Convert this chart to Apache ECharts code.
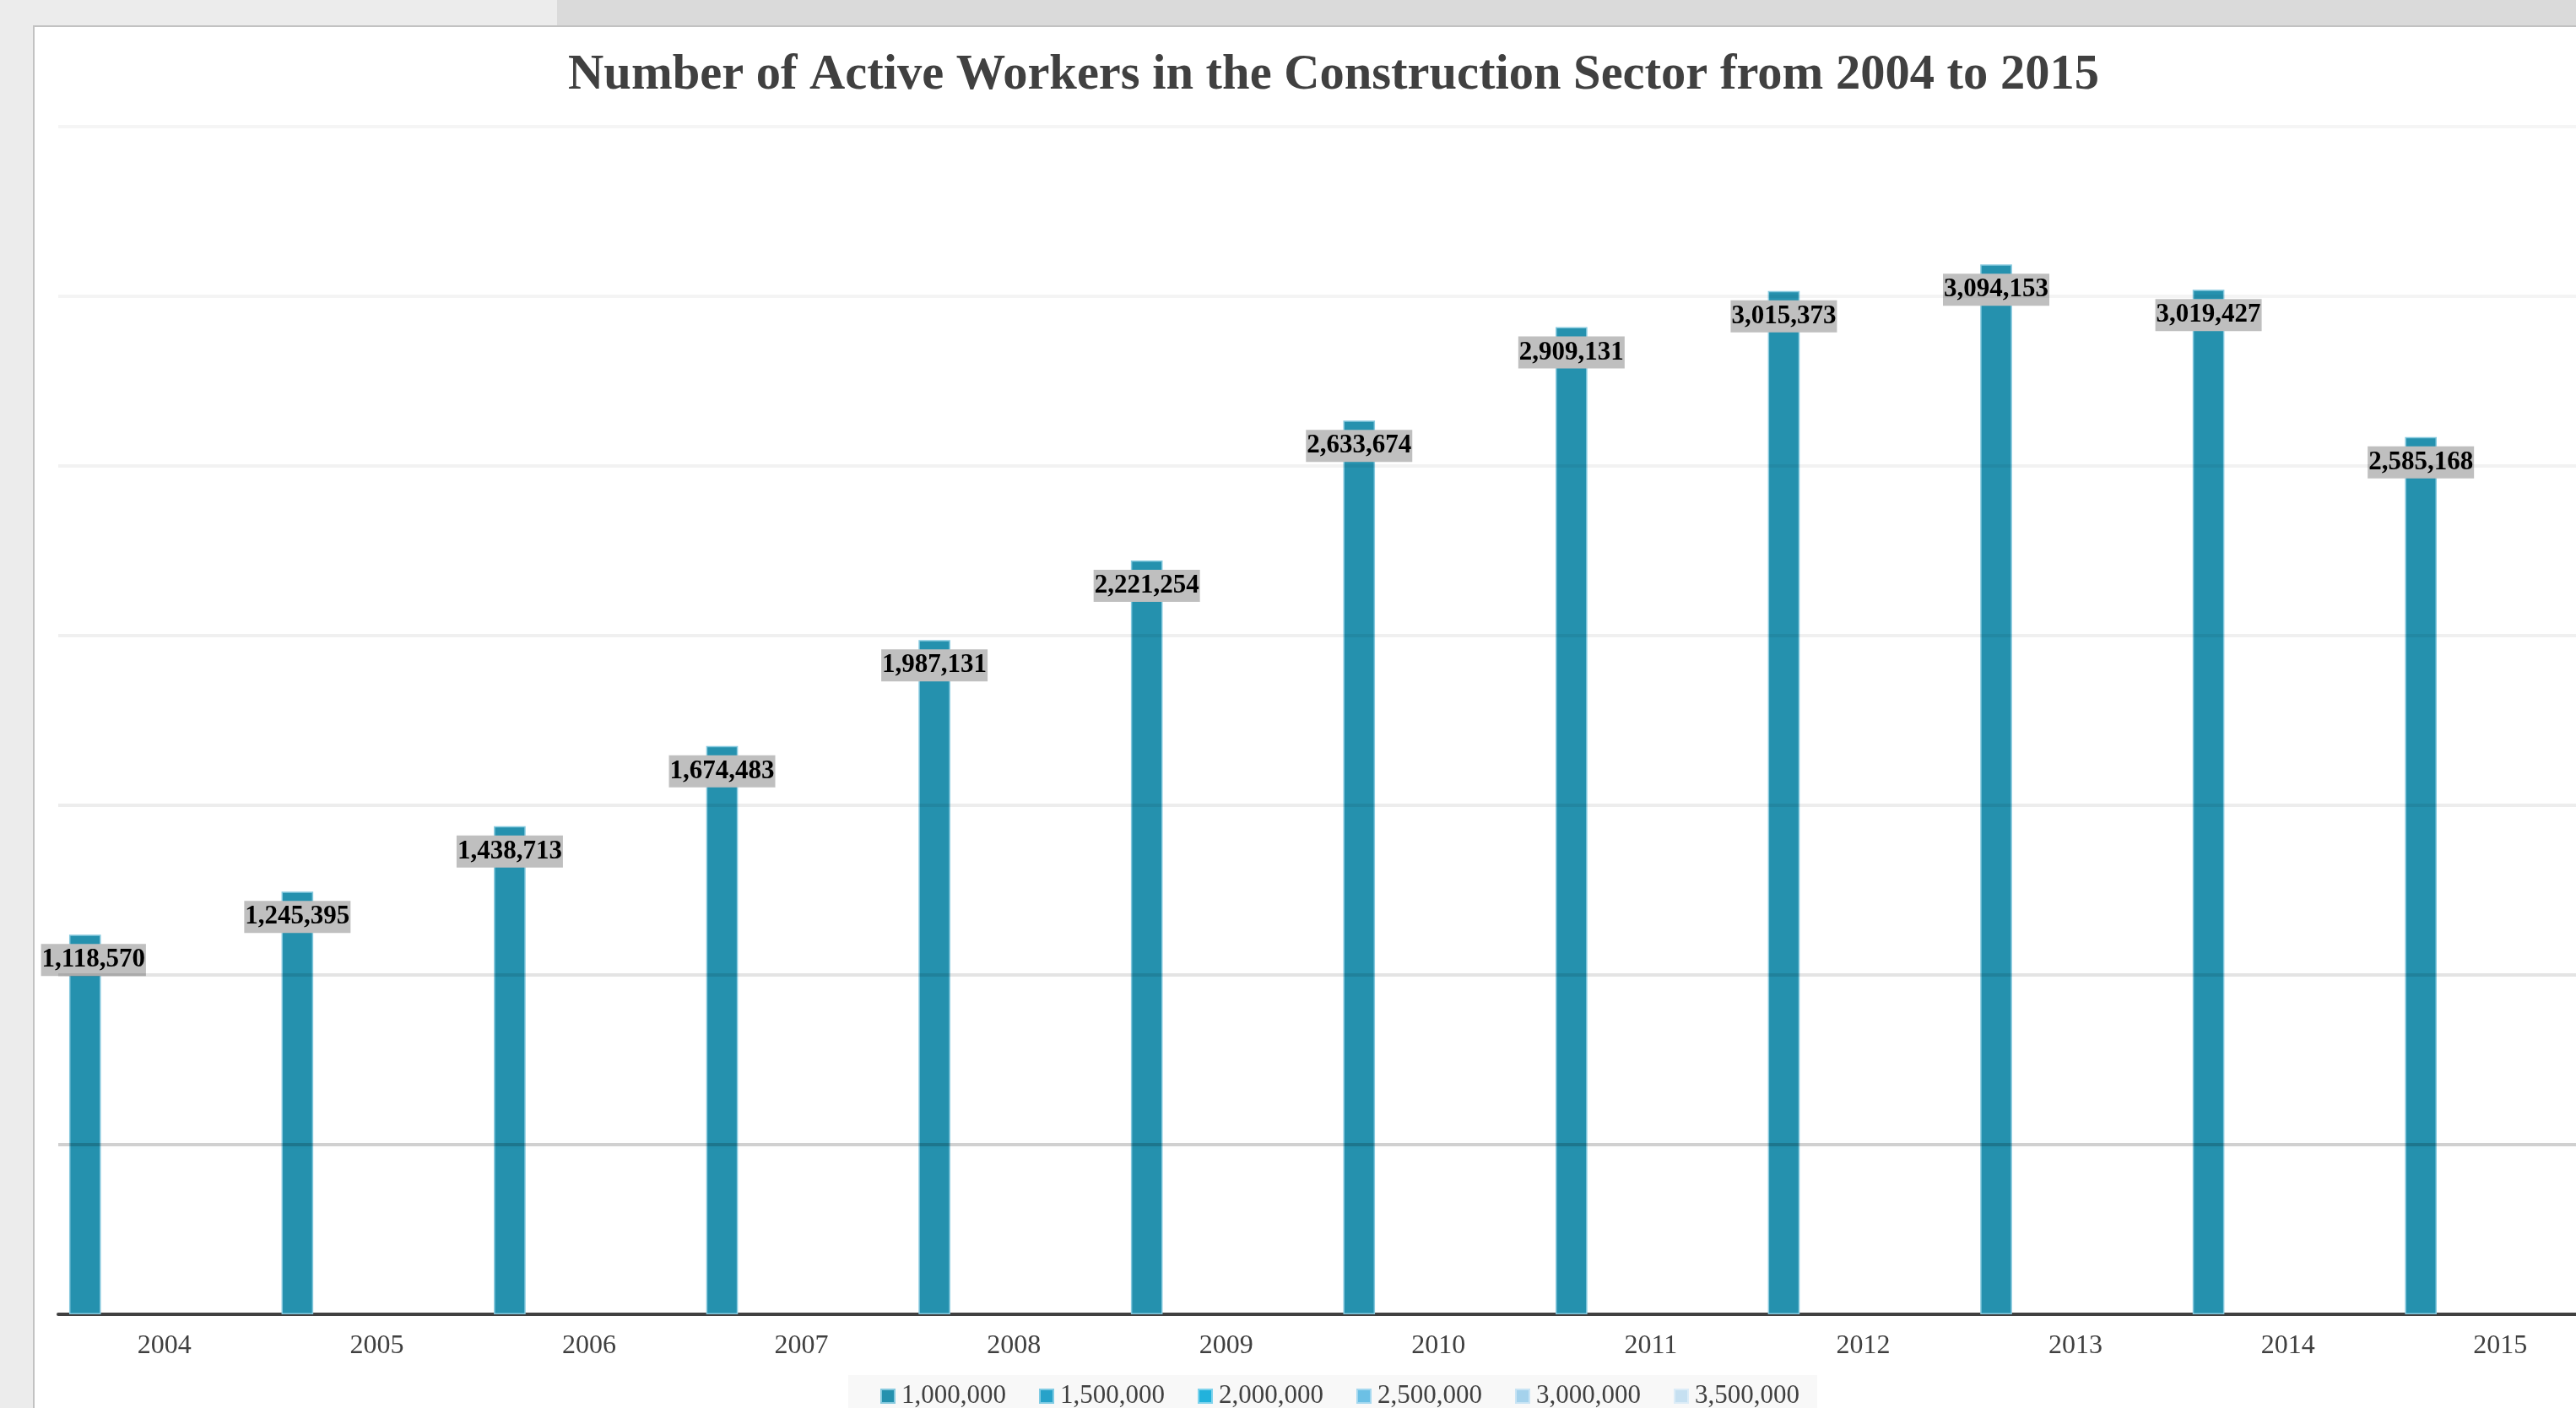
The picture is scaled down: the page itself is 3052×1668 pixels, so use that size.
<!DOCTYPE html>
<html>
<head>
<meta charset="utf-8">
<script src="https://cdn.jsdelivr.net/npm/echarts@6/dist/echarts.min.js"></script>
<style>
  html, body { margin: 0; padding: 0; background: #ececec; overflow: hidden; width: 3052px; height: 1668px; }
  #chart { width: 3092px; height: 1668px; }
</style>
</head>
<body>
<div id="chart"></div>
<script>
const years = ['2004','2005','2006','2007','2008','2009','2010','2011','2012','2013','2014','2015'];
const workers = [1118570, 1245395, 1438713, 1674483, 1987131, 2221254, 2633674, 2909131, 3015373, 3094153, 3019427, 2585168];
const legendNames = ['1,000,000','1,500,000','2,000,000','2,500,000','3,000,000','3,500,000'];
const seriesColors = ['#2591ae','#27a2c9','#22b2dc','#6cc0e5','#a5d2ec','#c6e0f1'];
const seriesBorders = ['#86c9de','#7fcbe3','#7fd3ec','#a5d8ef','#c9e4f4','#dcecf7'];
const yMax = 3500000;
const yStep = 500000;

const FONT = "'Liberation Serif', 'Times New Roman', serif";

const chart = echarts.init(document.getElementById('chart'), null, { renderer: 'canvas' });

const series = legendNames.map((name, si) => ({
  name: name,
  type: 'bar',
  barGap: '0%',
  barCategoryGap: '10.3%',
  itemStyle: { color: seriesColors[si], borderColor: seriesBorders[si], borderWidth: 1.5 },
  data: si === 0 ? workers.map((v, i) => i === 0 ? { value: v, label: { offset: [10, 0] } } : v) : [],
  label: si === 0 ? {
    show: true,
    position: 'insideTop',
    distance: 11,
    formatter: p => Number(p.value).toLocaleString('en-US'),
    fontFamily: FONT,
    fontWeight: 'bold',
    fontSize: 31,
    lineHeight: 32,
    color: '#000',
    backgroundColor: '#bfbfbf',
    padding: [3, 1, 3, 1]
  } : { show: false },
  z: 2
}));

chart.setOption({
  animation: false,
  graphic: [
    { type: 'rect', z: -20, silent: true, shape: { x: 660, y: 0, width: 2440, height: 31 }, style: { fill: '#dadada' } },
    { type: 'rect', z: -10, silent: true, shape: { x: 40, y: 31, width: 3100, height: 1700 }, style: { fill: '#ffffff', stroke: '#c2c2c2', lineWidth: 2 } }
  ],
  title: {
    text: 'Number of Active Workers in the Construction Sector from 2004 to 2015',
    left: 1580,
    textAlign: 'center',
    top: 61,
    padding: 0,
    textStyle: { fontFamily: FONT, fontWeight: 'bold', fontSize: 58.5, lineHeight: 58, color: '#404040' }
  },
  legend: {
    data: legendNames,
    left: 1005,
    top: 1629,
    padding: [9, 21, 12, 38],
    backgroundColor: '#f8f8f8',
    itemWidth: 16,
    itemHeight: 16,
    itemGap: 39,
    icon: 'rect',
    textStyle: { fontFamily: FONT, fontSize: 31, lineHeight: 32, color: '#404040', padding: [0, 0, 0, 3] }
  },
  grid: { left: 69, right: 4, top: 150, bottom: 111, containLabel: false },
  xAxis: {
    type: 'category',
    data: years,
    axisTick: { show: false },
    axisLine: { lineStyle: { color: '#404040', width: 4 } },
    axisLabel: { fontFamily: FONT, fontSize: 32, color: '#404040', margin: 22 },
    splitLine: { show: false }
  },
  yAxis: {
    type: 'value',
    min: 0,
    max: yMax,
    interval: yStep,
    z: 3,
    axisLine: { show: false },
    axisTick: { show: false },
    axisLabel: { show: false },
    splitLine: {
      show: true,
      lineStyle: {
        width: 4,
        color: ['rgba(0,0,0,0)', 'rgba(0,0,0,0.18)', 'rgba(0,0,0,0.1)', 'rgba(0,0,0,0.07)', 'rgba(0,0,0,0.06)', 'rgba(0,0,0,0.05)', 'rgba(0,0,0,0.045)', 'rgba(0,0,0,0.04)'],
        shadowBlur: 8,
        shadowColor: 'rgba(0,0,0,0.1)'
      }
    }
  },
  series: series
});
</script>
</body>
</html>
